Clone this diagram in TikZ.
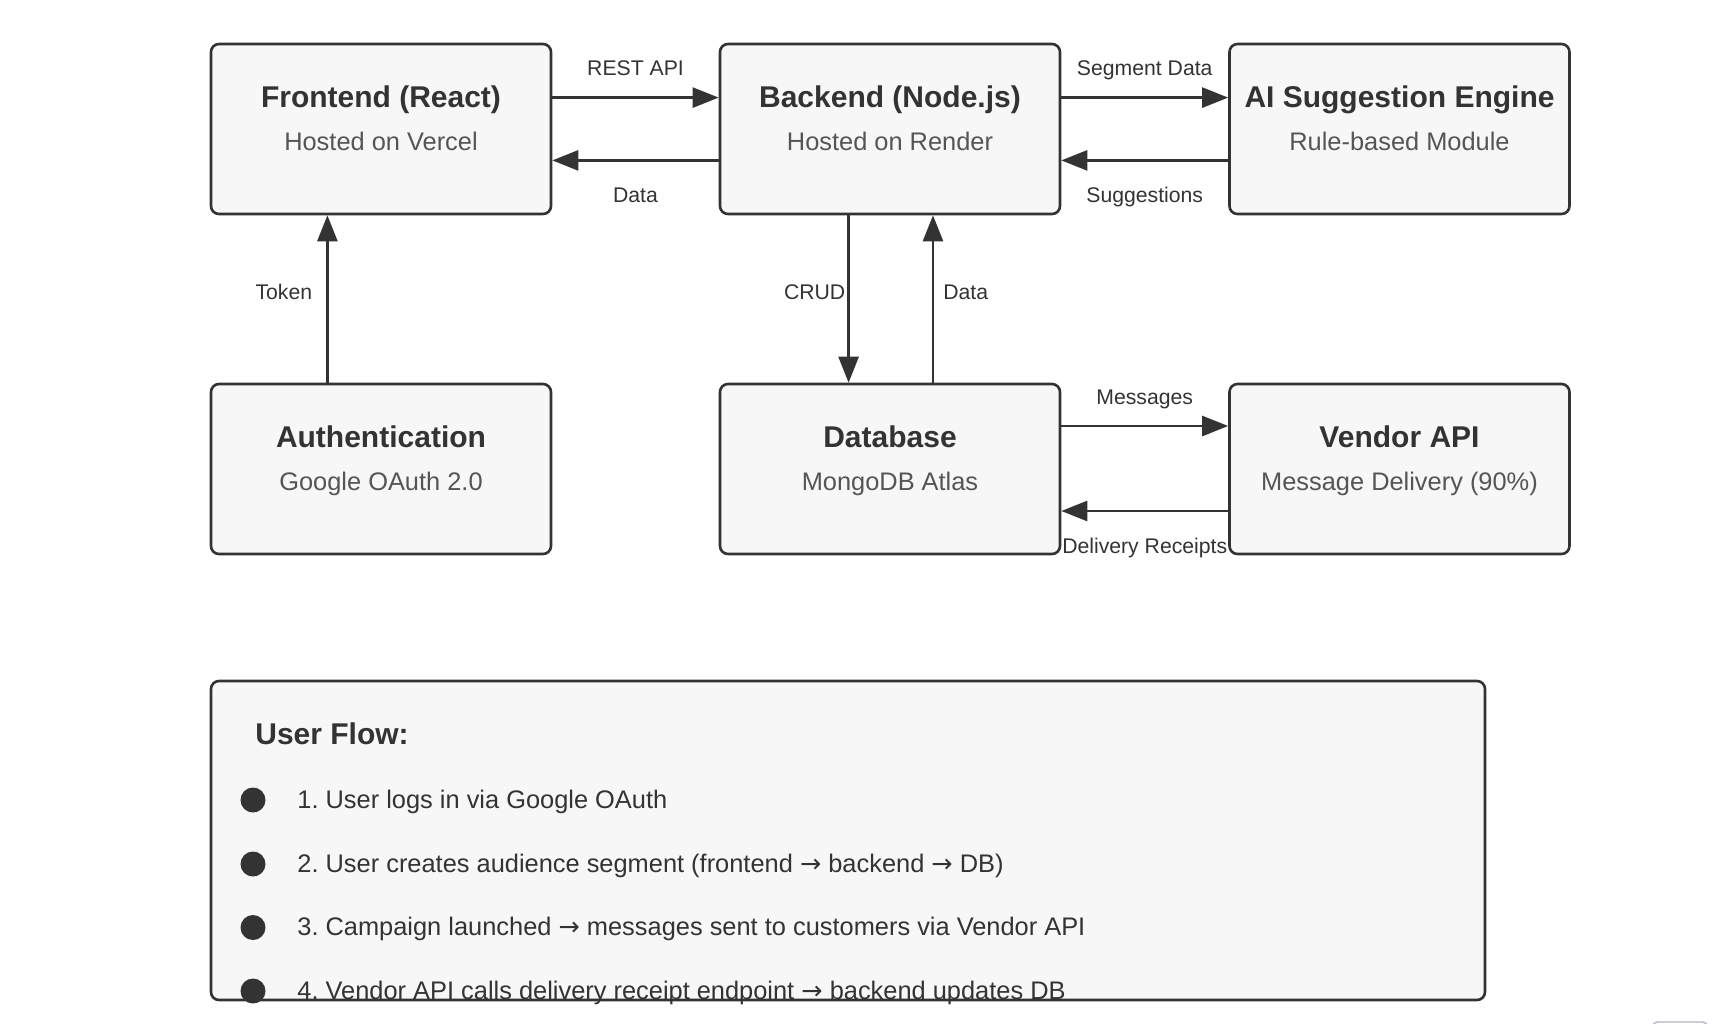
\documentclass[tikz,border=0pt]{standalone}
\usepackage{fontspec}
\setmainfont{Liberation Sans}
\newfontfamily\arrowfont{DejaVu Sans}
\newcommand{\flowarrow}{{\arrowfont →}}
\frenchspacing
\usetikzlibrary{arrows.meta}
\definecolor{linecol}{HTML}{333333}
\definecolor{boxfill}{HTML}{F7F7F7}
\definecolor{subcol}{HTML}{555555}
\definecolor{cornergray}{HTML}{B4B6C0}

\begin{document}
\begin{tikzpicture}[
    x=0.5pt, y=-0.5pt,
    box/.style={draw=linecol, fill=boxfill, rounded corners=4pt, line width=1.3pt, minimum width=170pt, minimum height=85pt},
    head/.style={font=\fontsize{15}{18}\selectfont\bfseries, text=linecol, anchor=base, inner sep=0pt},
    sub/.style={font=\fontsize{12.7}{15}\selectfont, text=subcol, anchor=base, inner sep=0pt},
    elabel/.style={font=\fontsize{10.6}{13}\selectfont, text=linecol, anchor=base, inner sep=0pt},
    flow/.style={draw=linecol, line width=1.3pt, -{Triangle[length=13pt,width=10pt]}},
    bullet/.style={circle, fill=linecol, minimum size=12.5pt, inner sep=0pt},
    item/.style={font=\fontsize{12.7}{15}\selectfont, text=linecol, anchor=base west, inner sep=0pt}
]
\useasboundingbox (0,0) rectangle (1721,1024);
\fill[white] (0,0) rectangle (1721,1024);

% components
\node[box] (frontend) at (381,129) {};
\node[box] (backend) at (890,129) {};
\node[box] (aiengine) at (1399.5,129) {};
\node[box] (auth) at (381,469) {};
\node[box] (database) at (890,469) {};
\node[box] (vendor) at (1399.5,469) {};

\node[head] (frontend-head) at (381,107) {Frontend (React)};
\node[sub] (frontend-sub) at (381,150) {Hosted on Vercel};
\node[head] (backend-head) at (890,107) {Backend (Node.js)};
\node[sub] (backend-sub) at (890,150) {Hosted on Render};
\node[head] (aiengine-head) at (1399.5,107) {AI Suggestion Engine};
\node[sub] (aiengine-sub) at (1399.5,150) {Rule-based Module};
\node[head] (auth-head) at (381,447) {Authentication};
\node[sub] (auth-sub) at (381,490) {Google OAuth 2.0};
\node[head] (database-head) at (890,447) {Database};
\node[sub] (database-sub) at (890,490) {MongoDB Atlas};
\node[head] (vendor-head) at (1399.5,447) {Vendor API};
\node[sub] (vendor-sub) at (1399.5,490) {Message Delivery (90\%)};

% connectors
\draw[flow] ([yshift=15.7pt]frontend.east) -- node[elabel, yshift=10.85pt] (rest-lbl) {REST API} ([yshift=15.7pt]backend.west);
\draw[flow] ([yshift=-15.7pt]backend.west) -- node[elabel, yshift=-21.15pt] (data-lbl) {Data} ([yshift=-15.7pt]frontend.east);
\draw[flow] ([yshift=15.7pt]backend.east) -- node[elabel, yshift=10.85pt] (segment-lbl) {Segment Data} ([yshift=15.7pt]aiengine.west);
\draw[flow] ([yshift=-15.7pt]aiengine.west) -- node[elabel, yshift=-21.15pt] (suggest-lbl) {Suggestions} ([yshift=-15.7pt]backend.east);
\draw[flow] ([xshift=-26.8pt]auth.north) -- node[elabel, anchor=base east, xshift=-7pt] (token-lbl) {Token} ([xshift=-26.8pt]frontend.south);
\draw[flow] ([xshift=-20.7pt]backend.south) -- node[elabel, anchor=base east, xshift=-1pt] (crud-lbl) {CRUD} ([xshift=-20.7pt]database.north);
\draw[flow] ([xshift=21.5pt]database.north) -- node[elabel, anchor=base west, xshift=4.5pt] (dbdata-lbl) {Data} ([xshift=21.5pt]backend.south);
\draw[flow] ([yshift=21.5pt]database.east) -- node[elabel, yshift=11pt] (msg-lbl) {Messages} ([yshift=21.5pt]vendor.west);
\draw[flow] ([yshift=-21pt]vendor.west) -- node[elabel, yshift=-21pt] (receipt-lbl) {Delivery Receipts} ([yshift=-21pt]database.east);

% user flow panel
\node[box, minimum width=637pt, minimum height=159.5pt] (userflow) at (848,840.5) {};
\node[head, anchor=base west] (userflow-head) at (255,744) {User Flow:};
\node[bullet] (b1) at (253,800) {};
\node[bullet] (b2) at (253,864) {};
\node[bullet] (b3) at (253,927.5) {};
\node[bullet] (b4) at (253,991) {};
\node[item] (step1) at (297,808) {1. User logs in via Google OAuth};
\node[item] (step2) at (297,872) {2. User creates audience segment (frontend \flowarrow{} backend \flowarrow{} DB)};
\node[item] (step3) at (297,935.5) {3. Campaign launched \flowarrow{} messages sent to customers via Vendor API};
\node[item] (step4) at (297,999) {4. Vendor API calls delivery receipt endpoint \flowarrow{} backend updates DB};

% corner fragment
\draw[cornergray, line width=0.7pt, rounded corners=3pt] (1652,1036) -- (1652,1022) -- (1708,1022) -- (1708,1036);
\end{tikzpicture}
\end{document}
